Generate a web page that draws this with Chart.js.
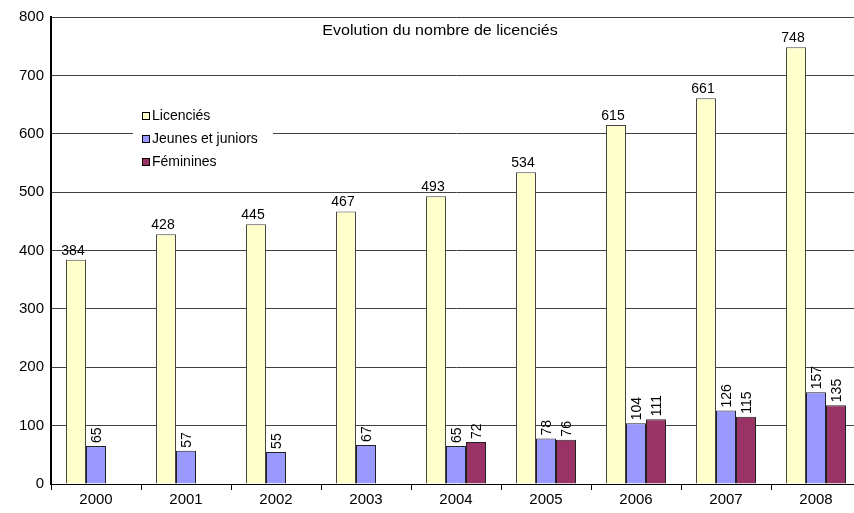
<!DOCTYPE html>
<html>
<head>
<meta charset="utf-8">
<script src="https://cdn.jsdelivr.net/npm/chart.js@4/dist/chart.umd.min.js"></script>
<style>
  html, body { margin: 0; padding: 0; background: #fff; overflow: hidden; }
  #wrap { width: 854px; height: 513px; overflow: hidden; }
</style>
</head>
<body>
<div id="wrap"><canvas id="licChart" width="861" height="513"></canvas></div>
<script>
// Données
const annees = ['2000', '2001', '2002', '2003', '2004', '2005', '2006', '2007', '2008'];
const licencies = [384, 428, 445, 467, 493, 534, 615, 661, 748];
const jeunes = [65, 57, 55, 67, 65, 78, 104, 126, 157];
const feminines = [null, null, null, null, 72, 76, 111, 115, 135];
const titre = 'Evolution du nombre de licenciés';

const police = 'Arial, "Liberation Sans", sans-serif';

// Etiquettes de valeurs au-dessus des barres
const etiquettes = {
    id: 'etiquettes',
    afterDatasetsDraw(chart) {
        const ctx = chart.ctx;
        ctx.save();
        ctx.fillStyle = '#000';
        ctx.font = '14px ' + police;
        chart.data.datasets.forEach((ds, i) => {
            const meta = chart.getDatasetMeta(i);
            meta.data.forEach((bar, j) => {
                const v = ds.data[j];
                if (v == null) return;
                if (i === 0) {
                    ctx.textAlign = 'center';
                    ctx.textBaseline = 'bottom';
                    ctx.fillText(String(v), bar.x - 3, bar.y - 2);
                } else {
                    ctx.save();
                    ctx.translate(bar.x + 1, bar.y - 3);
                    ctx.rotate(-Math.PI / 2);
                    ctx.textAlign = 'left';
                    ctx.textBaseline = 'middle';
                    ctx.fillText(String(v), 0, 0);
                    ctx.restore();
                }
            });
        });
        ctx.restore();
    }
};

// Titre et légende dans la zone du graphique
const decor = {
    id: 'decor',
    afterDraw(chart) {
        const ctx = chart.ctx;
        ctx.save();
        ctx.fillStyle = '#000';
        ctx.font = '15px ' + police;
        ctx.textAlign = 'center';
        ctx.textBaseline = 'middle';
        ctx.save();
        ctx.translate(440, 31);
        ctx.scale(1.07, 1);
        ctx.fillText(titre, 0, 0);
        ctx.restore();

        ctx.fillStyle = '#fff';
        ctx.fillRect(133, 104, 140, 68);
        ctx.textAlign = 'left';
        ctx.font = '14px ' + police;
        chart.data.datasets.forEach((ds, i) => {
            const y = 116 + i * 23;
            ctx.fillStyle = ds.backgroundColor;
            ctx.fillRect(142, y - 4, 8, 8);
            ctx.strokeStyle = '#000';
            ctx.lineWidth = 1;
            ctx.strokeRect(142.5, y - 3.5, 7, 7);
            ctx.fillStyle = '#000';
            ctx.fillText(ds.label, 152, y);
        });
        ctx.restore();
    }
};

new Chart(document.getElementById('licChart'), {
    type: 'bar',
    data: {
        labels: annees,
        datasets: [
            { label: 'Licenciés', data: licencies, backgroundColor: '#FFFFCC', borderColor: '#444', borderWidth: 1 },
            { label: 'Jeunes et juniors', data: jeunes, backgroundColor: '#9999FF', borderColor: '#222', borderWidth: 1 },
            { label: 'Féminines', data: feminines, backgroundColor: '#993366', borderColor: '#222', borderWidth: 1 }
        ]
    },
    options: {
        responsive: false,
        animation: false,
        datasets: { bar: { categoryPercentage: 0.667, barPercentage: 1 } },
        layout: { padding: { top: 17, right: 0, left: 0, bottom: 0 } },
        plugins: {
            legend: { display: false },
            tooltip: { enabled: false }
        },
        scales: {
            x: {
                grid: { offset: true, drawOnChartArea: false, drawTicks: true, tickLength: 6, color: '#000' },
                border: { color: '#000', width: 1 },
                ticks: { color: '#000', font: { family: police, size: 15 }, padding: 1, maxRotation: 0 },
                afterFit(scale) { scale.height = 29; }
            },
            y: {
                min: 0,
                max: 800,
                ticks: { stepSize: 100, color: '#000', font: { family: police, size: 15 }, padding: 7 },
                grid: { color: '#404040', drawTicks: false },
                border: { color: '#000', width: 2 },
                afterFit(scale) { scale.width = 51; }
            }
        }
    },
    plugins: [etiquettes, decor]
});
</script>
</body>
</html>
